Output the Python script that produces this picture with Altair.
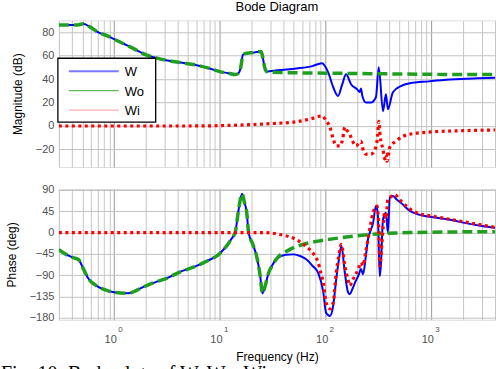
import altair as alt
import pandas as pd

# ---------------- data ----------------
SERIES = ["W", "Wo", "Wi"]

# Magnitude (dB): W and Wo coincide up to ~28 Hz
mag_shared_f = [0.3, 0.36, 0.44, 0.51, 0.6, 0.7, 0.85, 1.0, 1.2, 1.45, 2.0, 2.5, 3.1, 4.2,
                5.9, 8.0, 10.0, 12.0, 14.0, 15.0, 15.8, 16.5, 18.0, 21.0, 24.5, 25.5, 26.5, 27.7]
mag_shared = [86, 86, 86, 87, 84, 80, 77, 74, 70.5, 67, 60.6, 58, 56, 54,
              52, 49, 46.3, 45, 43.8, 45, 50.5, 60.6, 62, 62.5, 63.5, 58, 50, 46.3]

w_mag_f = [35, 53, 75, 92, 106, 118, 131, 143, 156, 174, 200, 210, 216, 222, 241, 268, 299,
           318, 349, 372, 388, 433, 515, 626, 950, 1500, 2500, 4000]
w_mag = [47.5, 49, 51, 53.5, 45.5, 33, 25.6, 35, 44, 35.6, 31, 29, 32, 26, 20, 20, 24.5,
         50, 12.6, 27, 14.3, 28.8, 34, 36.4, 38, 39.5, 40.5, 41]

wo_mag_f = [30, 40, 100, 300, 1000, 4000]
wo_mag = [45.8, 45.5, 45, 44.5, 44, 43.8]

wi_mag_f = [0.3, 1, 5, 10, 18, 30, 53, 77, 93, 101, 110, 118, 126, 137, 145, 152, 160, 169,
            180, 194, 205, 216, 226, 241, 268, 299, 310, 318, 328, 349, 362, 372, 380, 405,
            463, 535, 626, 1040, 2000, 4000]
wi_mag = [0, 0, 0, 0.3, 1, 2, 3.6, 6.7, 8.6, 4.4, -1, -11, -17, -17, -11, -1, -4, -7,
          -13, -17, -15, -13, -20, -24, -24, -18, -9, 4, -9, -20, -28, -24, -30, -18,
          -13, -9, -7, -5, -4, -3.4]

# Phase (deg): W and Wo coincide up to ~35 Hz
ph_shared_f = [0.3, 0.35, 0.41, 0.46, 0.51, 0.57, 0.7, 0.85, 1.0, 1.35, 1.92, 2.5, 3.1, 4.3,
               5.8, 7.4, 10, 12.7, 14, 15, 16.2, 17, 17.9, 18.7, 20.5, 22.2, 24, 25.3, 27,
               28.8, 31.5, 34.5]
ph_shared = [-36, -46, -53, -57, -76, -97, -114, -122, -126, -128, -114, -104, -97, -82,
             -72, -61, -44, -15, 2, 47, 82, 65, 44, 0, -25, -49, -90, -128, -110,
             -86, -68, -55]

w_ph_f = [42, 50, 58, 66, 75, 85, 95, 101, 110, 118, 126, 133, 141, 152, 163, 169, 180, 190,
          205, 216, 226, 240, 252, 265, 281, 299, 311, 325, 333, 349, 372, 388, 405, 433,
          470, 515, 626, 760, 1000, 1500, 2000, 3000, 4000]
w_ph = [-47, -46, -50, -57, -70, -85, -125, -169, -176, -154, -98, -60, -28, -85, -126, -130,
        -118, -105, -90, -77, -88, -50, -13, 3, 20, 56, 42, -92, -70, 28, 42, 0, 74, 77,
        70, 63, 46, 38, 33, 27, 21, 14, 10]

wo_ph_f = [45.7, 66, 85, 150, 300, 626, 4000]
wo_ph = [-36, -23, -18, -10, -3, 0, 2]

wi_ph_f = [0.3, 5, 15, 25, 37, 53, 66, 75, 82, 85, 90, 95, 101, 110, 118, 126, 133, 141, 152,
           163, 169, 180, 190, 205, 216, 226, 240, 252, 265, 281, 306, 318, 325, 349, 362,
           372, 388, 405, 451, 515, 626, 760, 1000, 1500, 2000, 3000, 4000]
wi_ph = [0, 0, 0, 0, -4, -15, -30, -42, -55, -63, -85, -105, -148, -161, -148, -85, -50, -25,
         -70, -100, -112, -100, -91, -75, -63, -70, -40, -13, 15, 42, 56, 14, -70, 8, 42,
         29, 70, 74, 80, 67, 50, 40, 35, 28, 23, 16, 11]

decades = [1, 10, 100, 1000]
decade_exp = ["0", "1", "2", "3"]
mag_ticks = [-20, 0, 20, 40, 60, 80]
ph_ticks = [-180, -135, -90, -45, 0, 45, 90]

# ---------------- tables ----------------
def frame(series, f, v):
    return pd.DataFrame({"series": series, "f": f, "v": v})

mag_df = pd.concat([
    frame("W", mag_shared_f + w_mag_f, mag_shared + w_mag),
    frame("Wo", mag_shared_f + wo_mag_f, mag_shared + wo_mag),
    frame("Wi", wi_mag_f, wi_mag),
])
ph_df = pd.concat([
    frame("W", ph_shared_f + w_ph_f, ph_shared + w_ph),
    frame("Wo", ph_shared_f + wo_ph_f, ph_shared + wo_ph),
    frame("Wi", wi_ph_f, wi_ph),
])
dec_df = pd.DataFrame({"f": decades, "e": decade_exp})

# ---------------- styling ----------------
FONT = "Liberation Sans"
LBL = "#505050"
PW, HT, HB = 437, 147, 131
style = {
    "W": dict(color="#0000ff", strokeWidth=2.0),
    "Wo": dict(color="#1ea01e", strokeWidth=3.5, strokeDash=[10, 5]),
    "Wi": dict(color="#ff0000", strokeWidth=3.2, strokeDash=[3, 3.5]),
}
legend_style = {
    "W": dict(color="#7a7aff", strokeWidth=2.2),
    "Wo": dict(color="#33aa33", strokeWidth=1),
    "Wi": dict(color="#ff9a9a", strokeWidth=1),
}

grid_vals = []
for d in [0.1, 1, 10, 100, 1000]:
    for m in range(1, 10):
        v = round(d * m, 6)
        if 0.3 <= v <= 4000:
            grid_vals.append(v)
grid_vals.append(4000)

grid_color = {"condition": {"test": "indexof([1,10,100,1000], datum.value) >= 0",
                            "value": "#9a9a9a"}, "value": "#c6c6c6"}

xscale = alt.Scale(type="log", domain=[0.3, 4000], nice=False)

label_expr = ("datum.value == 1 || datum.value == 10 || datum.value == 100 || "
              "datum.value == 1000 ? '10' : ''")


def x_axis(show):
    if show:
        return alt.Axis(values=grid_vals, labelExpr=label_expr, ticks=False, domain=False,
                        grid=True, gridColor=grid_color, labelOverlap=False, labelFlush=False,
                        labelOffset=-4, labelPadding=14, labelFontSize=11, labelFont=FONT,
                        labelColor=LBL, title="Frequency (Hz)", titleFont=FONT,
                        titleFontSize=12, titleFontWeight="normal", titleColor="#000000",
                        titlePadding=7)
    return alt.Axis(values=grid_vals, labels=False, ticks=False, domain=False, grid=True,
                    gridColor=grid_color, title=None)


def y_axis(ticks, title):
    return alt.Axis(values=ticks, ticks=False, domain=False, grid=True, gridColor="#c2c2c2",
                    labelFontSize=11, labelFont=FONT, labelColor=LBL, labelPadding=5,
                    title=title, titleFont=FONT, titleFontSize=12, titleFontWeight="normal",
                    titleColor="#000000", titlePadding=11)


def lines(df, show_x, ydom, ticks, ytitle):
    layers = []
    for s in SERIES:
        st = style[s]
        layers.append(
            alt.Chart(df[df.series == s]).mark_line(clip=True, interpolate="monotone",
                                                    strokeCap="butt", **st).encode(
                x=alt.X("f:Q", scale=xscale, axis=x_axis(show_x)),
                y=alt.Y("v:Q", scale=alt.Scale(domain=ydom, nice=False, zero=False),
                        axis=y_axis(ticks, ytitle)),
            )
        )
    return layers


one = pd.DataFrame({"a": [0]})

# ---------------- top panel (magnitude) ----------------
top_layers = lines(mag_df, False, [-35, 90], mag_ticks, "Magnitude (dB)")
top_layers.append(
    alt.Chart(one).mark_rect(fill="white", stroke="black", strokeWidth=1.3).encode(
        x=alt.value(-1), x2=alt.value(97), y=alt.value(38), y2=alt.value(102))
)
for i, s in enumerate(SERIES):
    yy = 51 + 19.5 * i
    top_layers.append(
        alt.Chart(one).mark_rule(**legend_style[s]).encode(
            x=alt.value(10), x2=alt.value(60), y=alt.value(yy))
    )
    top_layers.append(
        alt.Chart(one).mark_text(align="left", baseline="middle", fontSize=13, font=FONT,
                                 color="black").encode(
            x=alt.value(66), y=alt.value(yy + 1), text=alt.value(s))
    )

top = alt.layer(*top_layers).properties(
    width=PW, height=HT,
    title=alt.TitleParams("Bode Diagram", font=FONT, fontSize=13, fontWeight="normal",
                          color="black", offset=6),
)

# ---------------- bottom panel (phase) ----------------
bot_layers = lines(ph_df, True, [-184, 92], ph_ticks, "Phase (deg)")
bot_layers.append(
    alt.Chart(dec_df).mark_text(align="left", baseline="top", fontSize=8, font=FONT,
                                color=LBL, dx=4).encode(
        x=alt.X("f:Q", scale=xscale), y=alt.value(HB + 6), text="e:N")
)
bot_layers.append(
    alt.Chart(one).mark_text(align="left", baseline="alphabetic", fontSize=20,
                             font="Liberation Serif", color="black").encode(
        x=alt.value(-58), y=alt.value(191), text=alt.value("Fig. 10: Bode plots of W, Wo, Wi"))
)
bot = alt.layer(*bot_layers).properties(width=PW, height=HB)

chart = alt.vconcat(top, bot, spacing=15).properties(padding=0).configure_view(
    stroke="#6a6a6a", strokeWidth=1.5
).configure(background="white")

chart.save("out.html", embed_options={"renderer": "svg", "actions": False})
